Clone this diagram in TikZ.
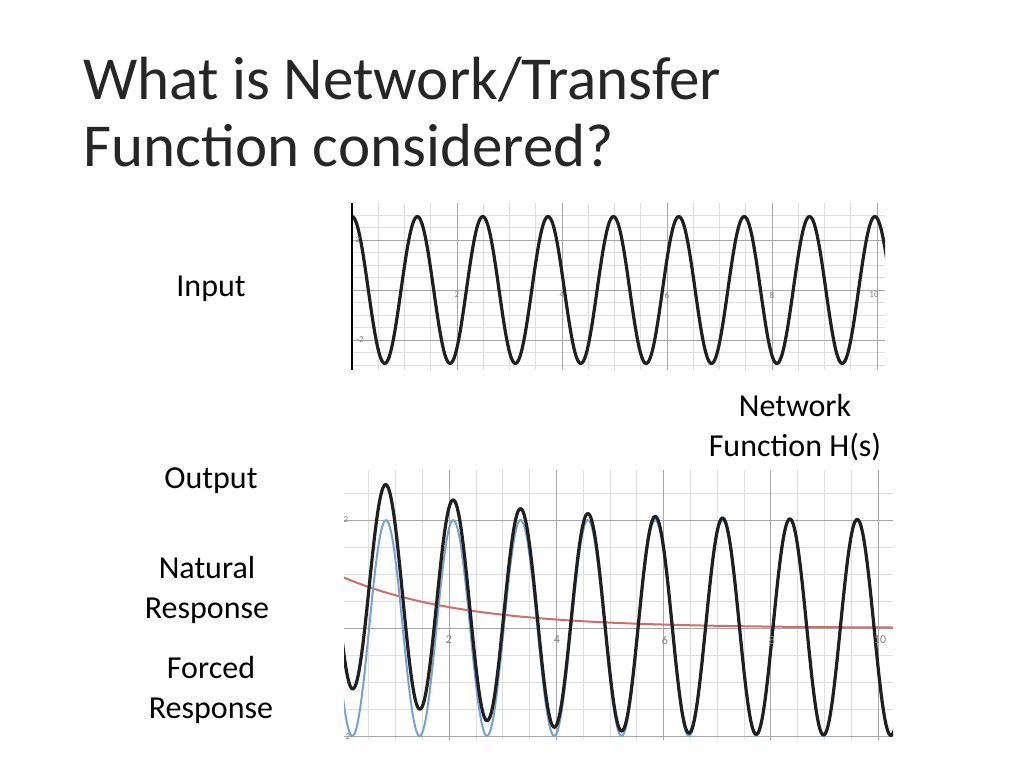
\documentclass[tikz,border=0pt]{standalone}
\usepackage{fontspec}
\setmainfont{Carlito}
\begin{document}
\begin{tikzpicture}[x=1pt,y=-1pt,
  lbl/.style={align=center,font=\fontsize{32}{40}\selectfont},
  minorgrid/.style={draw=black!12,line width=0.8pt},
  majorgrid/.style={draw=black!35,line width=0.8pt},
  tick/.style={font=\fontsize{9}{9}\selectfont,text=black!50},
  wave/.style={line width=3.2pt,draw=black!88,line join=round}]
\useasboundingbox (0,0) rectangle (1024,768);
\node[anchor=base west,align=left,font=\fontsize{61}{67}\selectfont,text=black!85,inner sep=0pt] (title) at (83,166) {What is Network/Transfer\\Function considered?};
\node[lbl] (in) at (211,289) {Input};
\node[lbl] (out) at (211,481) {Output};
\node[lbl] (nat) at (207,590) {Natural\\Response};
\node[lbl] (forc) at (211,690) {Forced\\Response};
\node[lbl] (hs) at (795,428) {Network\\Function H(s)};
% top plot
\begin{scope}
\clip (352,203) rectangle (885,370);
\foreach \i in {0,...,21} \draw[minorgrid] (352+26.25*\i,203) -- (352+26.25*\i,370);
\foreach \j in {-7,...,7} \draw[minorgrid] (352,290+12.5*\j) -- (885,290+12.5*\j);
\foreach \i in {1,...,5} \draw[majorgrid] (352+105*\i,203) -- (352+105*\i,370);
\foreach \j in {-2,0,2} \draw[majorgrid] (352,290+25*\j) -- (885,290+25*\j);
\begin{scope}[shift={(352,290)},x=52.5pt,y=24.5pt]
\draw[wave,domain=0:10.2,samples=400,smooth] plot (\x,{3*cos(360*\x/1.245)});
\end{scope}
\end{scope}
\draw[line width=1.2pt] (352,203) -- (352,370);
\foreach \v/\p in {2/457,4/562,6/667,8/772,10/874} \node[tick] at (\p,295) {\v};
\node[tick] at (358,240) {2};
\node[tick] at (360,340) {-2};
% bottom plot
\begin{scope}
\clip (344,470) rectangle (893,740);
\foreach \i in {0,...,21} \draw[minorgrid] (342+26.8*\i,470) -- (342+26.8*\i,740);
\foreach \j in {-6,...,6} \draw[minorgrid] (344,628+27*\j) -- (893,628+27*\j);
\foreach \i in {1,...,5} \draw[majorgrid] (342+107.2*\i,470) -- (342+107.2*\i,740);
\foreach \j in {-2,0,2} \draw[majorgrid] (344,628+54*\j) -- (893,628+54*\j);
\begin{scope}[shift={(342,628)},x=53.6pt,y=54pt]
\draw[line width=2pt,color={rgb,255:red,205;green,110;blue,105},domain=0:10.5,samples=100,smooth] plot (\x,{0.95*exp(-0.45*\x)});
\draw[color={rgb,255:red,120;green,160;blue,210},line width=2pt,domain=0:10.5,samples=400,smooth] plot (\x,{2*cos(360*(\x-0.82)/1.256)});
\draw[wave,domain=0:10.5,samples=400,smooth] plot (\x,{2*cos(360*(\x-0.82)/1.256)+0.95*exp(-0.45*\x)});
\end{scope}
\end{scope}
\foreach \v/\p in {2/449,4/557,6/665,8/772,10/880} \node[tick,font=\fontsize{12}{12}\selectfont] at (\p,640) {\v};
\node[tick] at (346,520) {2};
\node[tick] at (348,737) {2};
\end{tikzpicture}
\end{document}
